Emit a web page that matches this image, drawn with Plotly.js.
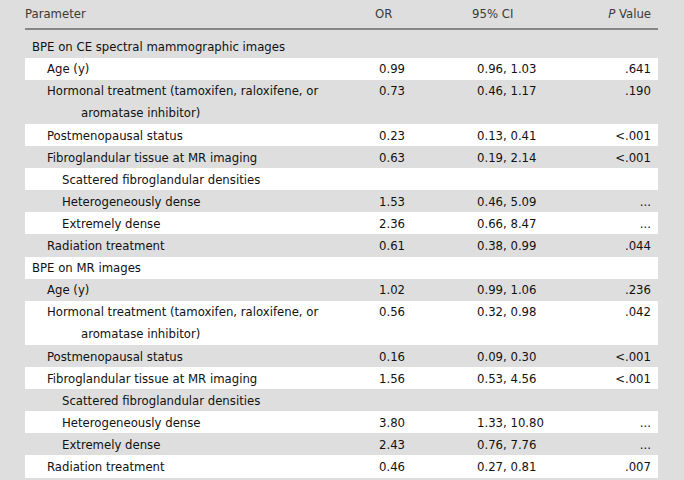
<!DOCTYPE html>
<html>
<head>
<meta charset="utf-8">
<script src="https://cdn.plot.ly/plotly-3.0.1.min.js"></script>
<style>html,body{margin:0;padding:0;background:#dedede;}#chart{width:684px;height:480px;}</style>
</head>
<body>
<div id="chart"></div>
<script>
// ---- data ----
var headers = ["Parameter", "OR", "95% CI", "<i>P</i> Value"];
var parameters = [
  "BPE on CE spectral mammographic images",
  "Age (y)",
  "Hormonal treatment (tamoxifen, raloxifene, or\naromatase inhibitor)",
  "Postmenopausal status",
  "Fibroglandular tissue at MR imaging",
  "Scattered fibroglandular densities",
  "Heterogeneously dense",
  "Extremely dense",
  "Radiation treatment",
  "BPE on MR images",
  "Age (y)",
  "Hormonal treatment (tamoxifen, raloxifene, or\naromatase inhibitor)",
  "Postmenopausal status",
  "Fibroglandular tissue at MR imaging",
  "Scattered fibroglandular densities",
  "Heterogeneously dense",
  "Extremely dense",
  "Radiation treatment"
];
var levels = [0, 1, 1, 1, 1, 2, 2, 2, 1, 0, 1, 1, 1, 1, 2, 2, 2, 1];
var orValues = ["", "0.99", "0.73", "0.23", "0.63", "", "1.53", "2.36", "0.61",
                "", "1.02", "0.56", "0.16", "1.56", "", "3.80", "2.43", "0.46"];
var ciValues = ["", "0.96, 1.03", "0.46, 1.17", "0.13, 0.41", "0.19, 2.14", "", "0.46, 5.09", "0.66, 8.47", "0.38, 0.99",
                "", "0.99, 1.06", "0.32, 0.98", "0.09, 0.30", "0.53, 4.56", "", "1.33, 10.80", "0.76, 7.76", "0.27, 0.81"];
var pValues = ["", ".641", ".190", "<.001", "<.001", "", "...", "...", ".044",
               "", ".236", ".042", "<.001", "<.001", "", "...", "...", ".007"];

// ---- layout constants ----
var W = 684, H = 480;
var rowUnit = 22.1;       // px per text line row
var firstRowTop = 35.5;   // px
var tableLeft = 25, tableRight = 658;
var indentX = [32, 47, 62];
var contX = 81;
var orX = 379, ciX = 477, pX = 651;
var orHeadX = 375, ciHeadX = 472;
var headerY = 15, headerLineY = 29;
var textShift = 0.06;     // rows, nudges text down
var FONT = "'DejaVu Sans Condensed', 'Liberation Sans Narrow', 'Arial Narrow', sans-serif";
var fontSize = 13;
var bodyColor = "#111111", headColor = "#3a3a3a";

function pxToUnit(py) { return (py - firstRowTop) / rowUnit; }

// build rows
var bandY = [], bandW = [], bandC = [];
var labX = [], labY = [], labT = [];
var valY = [];
var u = 0;
for (var i = 0; i < parameters.length; i++) {
  var lines = parameters[i].split("\n");
  var h = lines.length;
  bandY.push(u + h / 2);
  bandW.push(h);
  bandC.push(i % 2 === 1 ? "#ffffff" : "rgba(0,0,0,0)");
  for (var k = 0; k < lines.length; k++) {
    labX.push(k === 0 ? indentX[levels[i]] : contX);
    labY.push(u + k + 0.5 + textShift);
    labT.push(lines[k]);
  }
  valY.push(u + 0.5 + textShift);
  u += h;
}

var tf = {family: FONT, size: fontSize, color: bodyColor};
var hf = {family: FONT, size: fontSize, color: headColor};
var hy = pxToUnit(headerY);

var traces = [
  {type: "bar", orientation: "h", y: bandY, x: bandY.map(function(){return tableRight - tableLeft;}),
   base: tableLeft, width: bandW, marker: {color: bandC, line: {width: 0}}, hoverinfo: "skip"},
  {type: "scatter", mode: "text", x: labX, y: labY, text: labT, textposition: "middle right", textfont: tf, hoverinfo: "skip"},
  {type: "scatter", mode: "text", x: valY.map(function(){return orX;}), y: valY, text: orValues, textposition: "middle right", textfont: tf, hoverinfo: "skip"},
  {type: "scatter", mode: "text", x: valY.map(function(){return ciX;}), y: valY, text: ciValues, textposition: "middle right", textfont: tf, hoverinfo: "skip"},
  {type: "scatter", mode: "text", x: valY.map(function(){return pX;}), y: valY, text: pValues, textposition: "middle left", textfont: tf, hoverinfo: "skip"},
  {type: "scatter", mode: "text", x: [tableLeft, orHeadX, ciHeadX], y: [hy, hy, hy], text: headers.slice(0, 3), textposition: "middle right", textfont: hf, hoverinfo: "skip"},
  {type: "scatter", mode: "text", x: [pX], y: [hy], text: [headers[3]], textposition: "middle left", textfont: hf, hoverinfo: "skip"}
];

var layout = {
  width: W, height: H,
  margin: {l: 0, r: 0, t: 0, b: 0, pad: 0},
  paper_bgcolor: "#dedede", plot_bgcolor: "#dedede",
  showlegend: false, hovermode: false, bargap: 0,
  xaxis: {range: [0, W], visible: false, fixedrange: true},
  yaxis: {range: [pxToUnit(H), pxToUnit(0)], visible: false, fixedrange: true},
  shapes: [{type: "line", xref: "x", yref: "y", x0: tableLeft, x1: tableRight,
            y0: pxToUnit(headerLineY), y1: pxToUnit(headerLineY), line: {color: "#6a6a6a", width: 1.5}}]
};

Plotly.newPlot("chart", traces, layout, {staticPlot: true, displayModeBar: false});
</script>
</body>
</html>
